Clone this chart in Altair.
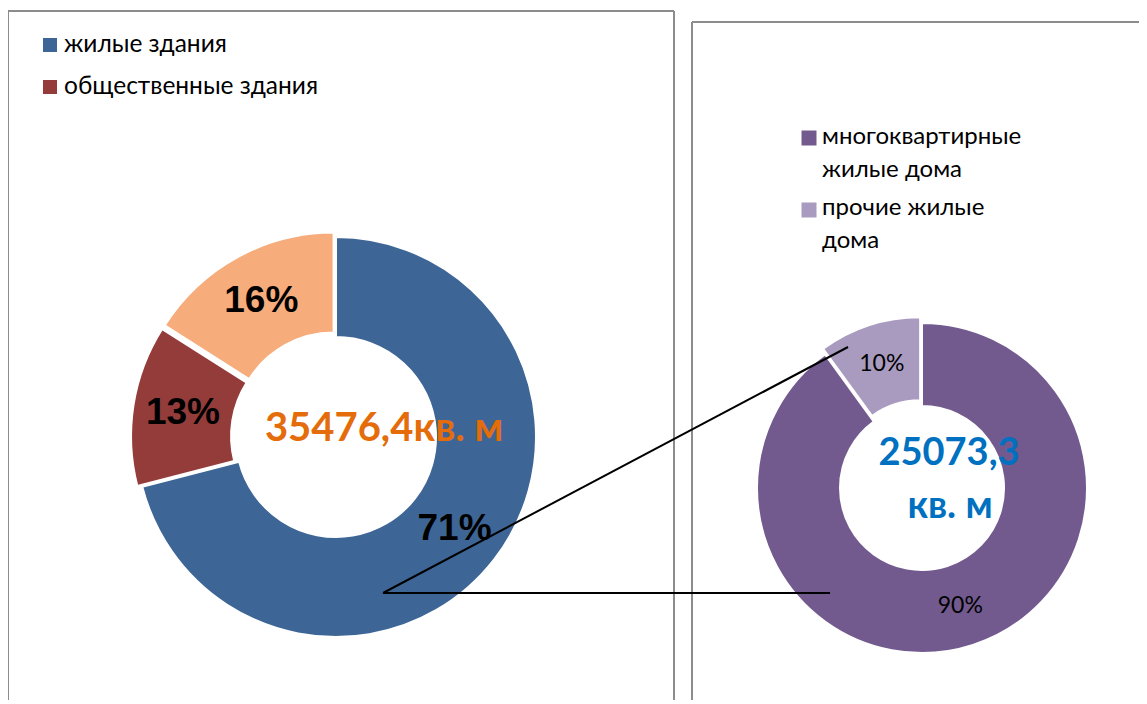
import altair as alt
import pandas as pd

# ---------------- data ----------------
left_cats = ["жилые здания", "общественные здания", "прочие здания"]
left_vals = [71, 13, 16]
left_labels = ["71%", "13%", "16%"]
left_colors = ["#3D6596", "#943C3A", "#F7AC7B"]
left_total = ["35476,4кв. м"]

right_cats = ["многоквартирные жилые дома", "прочие жилые дома"]
right_vals = [90, 10]
right_labels = ["90%", "10%"]
right_colors = ["#725A8F", "#A99BBF"]
right_total = ["25073,3", "кв. м"]

legend_left = ["жилые здания", "общественные здания"]
legend_right = [["многоквартирные", "жилые дома"], ["прочие жилые", "дома"]]

W, H = 1131, 692
OX, OY = 8, 8  # page offset of the drawing


def px(v):
    return v - OX


def py(v):
    return v - OY


def donut(cats, vals, labels, colors, cx, cy, r_out, r_in, explode, label_r,
          font, weight, size):
    df = pd.DataFrame({"cat": cats, "val": vals, "label": labels,
                       "idx": list(range(len(cats)))})
    base = (
        alt.Chart(df)
        .transform_joinaggregate(total="sum(val)")
        .transform_window(cum="sum(val)", sort=[alt.SortField("idx")], frame=[None, 0])
        .transform_calculate(
            t1="2*PI*datum.cum/datum.total",
            t0="2*PI*(datum.cum-datum.val)/datum.total",
        )
        .transform_calculate(mid="(datum.t0+datum.t1)/2",
                             d=f"datum.idx == 0 ? 0 : {explode}")
        .transform_calculate(
            ax=f"{cx} + datum.d*sin(datum.mid)",
            ay=f"{cy} - datum.d*cos(datum.mid)",
            lx=f"{cx} + (datum.d + {label_r})*sin(datum.mid)",
            ly=f"{cy} - (datum.d + {label_r})*cos(datum.mid)",
        )
    )
    arcs = base.mark_arc(radius=r_out, radius2=r_in, stroke="white",
                         strokeWidth=2).encode(
        x=alt.X("ax:Q", scale=None, axis=None),
        y=alt.Y("ay:Q", scale=None, axis=None),
        theta=alt.Theta("t0:Q", scale=None),
        theta2="t1:Q",
        color=alt.Color("cat:N", scale=alt.Scale(domain=cats, range=colors),
                        legend=None),
    )
    text = base.mark_text(font=font, fontWeight=weight, fontSize=size,
                          baseline="middle", align="center", color="black").encode(
        x=alt.X("lx:Q", scale=None, axis=None),
        y=alt.Y("ly:Q", scale=None, axis=None),
        text="label:N",
    )
    return [arcs, text]


one = pd.DataFrame({"a": [0]})
GRAY = "#8C8C8C"


def rule(x1, y1, x2, y2, color, w):
    return alt.Chart(one).mark_rule(color=color, strokeWidth=w).encode(
        x=alt.value(x1), y=alt.value(y1), x2=alt.value(x2), y2=alt.value(y2))


frames = [
    rule(px(8), py(11), px(8), py(720), GRAY, 2),
    rule(px(8), py(11), px(674), py(11), GRAY, 2),
    rule(px(674), py(11), px(674), py(720), GRAY, 2),
    rule(px(692), py(22), px(692), py(720), GRAY, 2),
    rule(px(692), py(22), px(1160), py(22), GRAY, 2),
]

left_layers = donut(left_cats, left_vals, left_labels, left_colors,
                    px(336), py(437), 200, 100, 5, 150,
                    "Liberation Sans", "bold", 37)
right_layers = donut(right_cats, right_vals, right_labels, right_colors,
                     px(922), py(488), 165, 82, 6, 124,
                     "Lato", "normal", 23)

connectors = [
    rule(px(383), py(593), px(848), py(347), "black", 2),
    rule(px(383), py(593), px(830), py(593), "black", 2),
]

center_left = alt.Chart(pd.DataFrame({"t": left_total})).mark_text(
    font="Lato", fontWeight="bold", fontSize=40, color="#E46C0A",
    align="center", baseline="alphabetic").encode(
    x=alt.value(px(384)), y=alt.value(py(441)), text="t:N")

rt = pd.DataFrame({"t": right_total, "i": [0, 1]})
center_right = alt.Chart(rt).mark_text(
    font="Lato", fontWeight="bold", fontSize=38, color="#0070C0",
    align="center", baseline="alphabetic").encode(
    x=alt.X("xx:Q", scale=None, axis=None),
    y=alt.Y("yy:Q", scale=None, axis=None), text="t:N").transform_calculate(
    xx=f"datum.i == 0 ? {px(949)} : {px(950)}",
    yy=f"datum.i == 0 ? {py(465)} : {py(518)}")

# legends
ll = pd.DataFrame({"cat": legend_left, "i": [0, 1]})
leg_left_sq = alt.Chart(ll).mark_square(size=196, opacity=1).encode(
    x=alt.value(px(50)),
    y=alt.Y("yy:Q", scale=None, axis=None),
    color=alt.Color("cat:N", scale=alt.Scale(domain=left_cats, range=left_colors),
                    legend=None),
).transform_calculate(yy=f"{py(45)} + datum.i*42")
leg_left_tx = alt.Chart(ll).mark_text(
    font="Lato", fontSize=24.5, align="left", baseline="middle", color="black").encode(
    x=alt.value(px(64)), y=alt.Y("yy:Q", scale=None, axis=None), text="cat:N"
).transform_calculate(yy=f"{py(45)} + datum.i*42")

rl = pd.DataFrame({"cat": right_cats, "i": [0, 1]})
leg_right_sq = alt.Chart(rl).mark_square(size=225, opacity=1).encode(
    x=alt.value(px(809)),
    y=alt.Y("yy:Q", scale=None, axis=None),
    color=alt.Color("cat:N", scale=alt.Scale(domain=right_cats, range=right_colors),
                    legend=None),
).transform_calculate(yy=f"{py(138)} + datum.i*72")
rows = []
for i, lines in enumerate(legend_right):
    for j, ln in enumerate(lines):
        rows.append({"t": ln, "i": i, "j": j})
rlt = pd.DataFrame(rows)
leg_right_tx = alt.Chart(rlt).mark_text(
    font="Lato", fontSize=24, align="left", baseline="middle", color="black").encode(
    x=alt.value(px(822)), y=alt.Y("yy:Q", scale=None, axis=None), text="t:N"
).transform_calculate(yy=f"{py(137)} + datum.i*71 + datum.j*33")

chart = alt.layer(
    *frames, *left_layers, *right_layers, *connectors, center_left, center_right,
    leg_left_sq, leg_left_tx, leg_right_sq, leg_right_tx,
).resolve_scale(color="independent").properties(
    width=W, height=H, padding=0, autosize="none"
).configure_view(stroke=None)

chart.save("out.html", embed_options={"renderer": "svg", "actions": False})
